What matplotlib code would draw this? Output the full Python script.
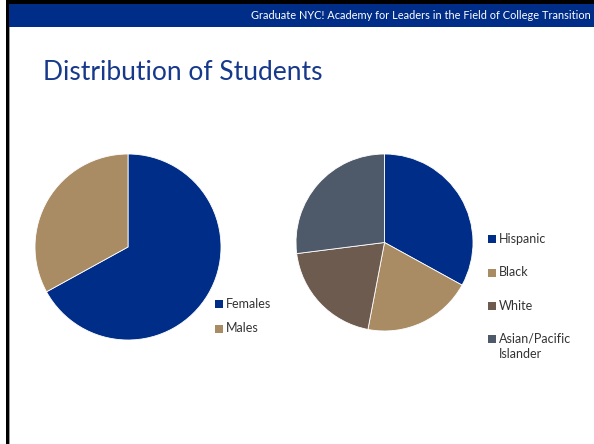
import matplotlib
matplotlib.use('Agg')
import matplotlib.pyplot as plt
from matplotlib.patches import Rectangle

# data
gender_labels = ['Females', 'Males']
gender_values = [67, 33]
gender_colors = ['#002D87', '#A98C64']

race_labels = ['Hispanic', 'Black', 'White', 'Asian/Pacific\nIslander']
race_values = [33, 20, 20, 27]
race_colors = ['#002D87', '#A98C64', '#6E5B50', '#4E5A6A']

header_text = 'Graduate NYC! Academy for Leaders in the Field of College Transition'
title_text = 'Distribution of Students'

W, H = 594, 444
plt.rcParams['font.family'] = ['Lato', 'DejaVu Sans']

fig = plt.figure(figsize=(W / 100, H / 100), dpi=100)
fig.patch.set_facecolor('white')


def box(x, y, w, h):
    # pixel box (top-left origin) -> figure fractions
    return [x / W, 1 - (y + h) / H, w / W, h / H]


def rect(x, y, w, h, color):
    l, b, ww, hh = box(x, y, w, h)
    fig.patches.append(Rectangle((l, b), ww, hh, transform=fig.transFigure,
                                 facecolor=color, edgecolor='none', zorder=0))


def legend(x, y0, step, labels, colors):
    # simple slide-style legend: square + text, first line aligned with the square
    for i, (lab, col) in enumerate(zip(labels, colors)):
        y = y0 + i * step
        rect(x, y - 4, 8, 8, col)
        fig.text((x + 11) / W, 1 - (y - 6.5) / H, lab, color='#333333',
                 fontsize=9, ha='left', va='top', linespacing=1.3)


# slide frame
rect(6, 0, W - 6, 4, 'black')
rect(6, 0, 3, H, 'black')
rect(8.5, 4, 1, H, '#9a9a9a')
rect(9, 4, W - 9, 23, '#002D87')

fig.text(591 / W, 1 - 15.5 / H, header_text, color='white', fontsize=7.95,
         ha='right', va='center')
fig.text(43 / W, 1 - 72 / H, title_text, color='#17398C', fontsize=19,
         ha='left', va='center')

# left pie: gender
ax1 = fig.add_axes(box(128 - 93, 247 - 93, 186, 186))
ax1.pie(gender_values, colors=gender_colors, startangle=90,
        counterclock=False,
        wedgeprops=dict(edgecolor='white', linewidth=0.6))
ax1.set_xlim(-1, 1)
ax1.set_ylim(-1, 1)
ax1.set_aspect('equal')
ax1.axis('off')
legend(215, 304, 25, gender_labels, gender_colors)

# right pie: race / ethnicity
ax2 = fig.add_axes(box(384.5 - 88.5, 242.5 - 88.5, 177, 177))
ax2.pie(race_values, colors=race_colors, startangle=90,
        counterclock=False,
        wedgeprops=dict(edgecolor='white', linewidth=0.6))
ax2.set_xlim(-1, 1)
ax2.set_ylim(-1, 1)
ax2.set_aspect('equal')
ax2.axis('off')
legend(488, 239.5, 33.3, race_labels, race_colors)

fig.savefig('out.png', dpi=100)
